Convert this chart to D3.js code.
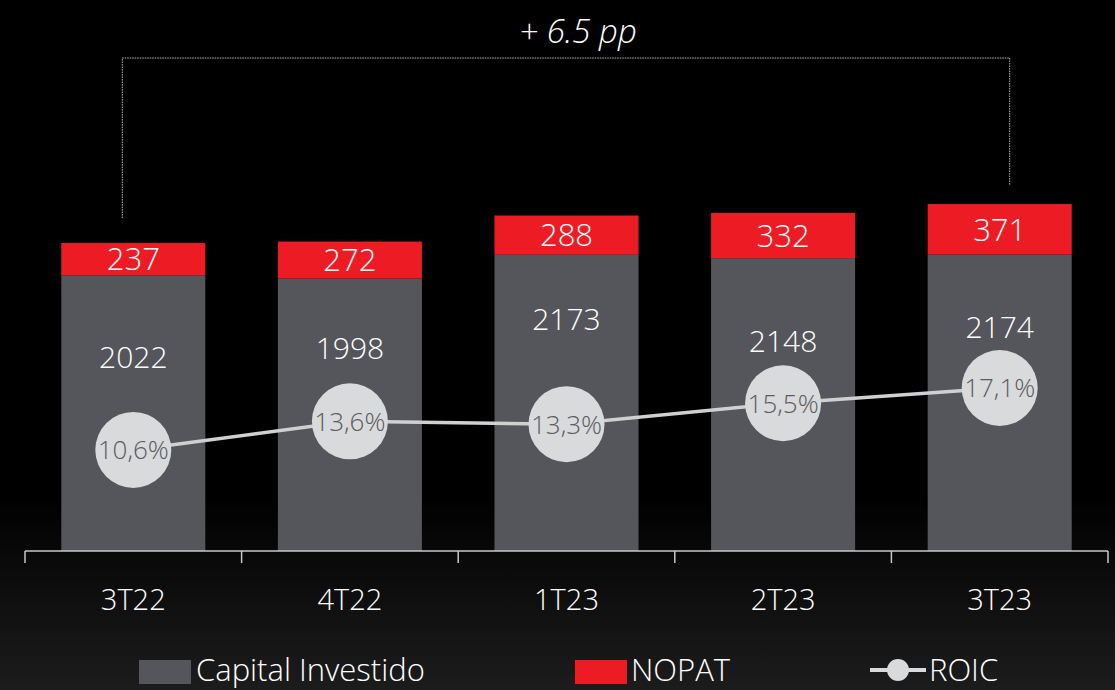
<!DOCTYPE html>
<html>
<head>
<meta charset="utf-8">
<script src="https://cdn.jsdelivr.net/npm/d3@7"></script>
<style>
  html, body { margin: 0; padding: 0; background: #000; }
  svg { display: block; font-family: "Open Sans", "Noto Sans", sans-serif; font-weight: 350; }
</style>
</head>
<body>
<div id="chart-area"></div>
<script>
// Data
const quarters = ["3T22", "4T22", "1T23", "2T23", "3T23"]
const capitalInvestido = [2022, 1998, 2173, 2148, 2174]
const nopat = [237, 272, 288, 332, 371]
const roic = [10.6, 13.6, 13.3, 15.5, 17.1]
const roicLabels = ["10,6%", "13,6%", "13,3%", "15,5%", "17,1%"]
const deltaLabel = "+ 6.5 pp"

// layout: distance of the capital label below the top of its grey segment
const capLabelGap = [82, 70, 64, 83, 73]

const W = 1115
const H = 690
const BASE = 551
const GREY = "#55565b"
const RED = "#ed1c24"
const LIGHT = "#d9dadb"

const svg = d3.select("#chart-area").append("svg")
    .attr("width", W)
    .attr("height", H)

// background with a faint dark texture near the bottom
const defs = svg.append("defs")
const grad = defs.append("linearGradient")
    .attr("id", "bg").attr("x1", 0).attr("y1", 0).attr("x2", 0).attr("y2", 1)
grad.append("stop").attr("offset", "0%").attr("stop-color", "#000")
grad.append("stop").attr("offset", "72%").attr("stop-color", "#000")
grad.append("stop").attr("offset", "100%").attr("stop-color", "#1c1c1c")
svg.append("rect").attr("width", W).attr("height", H).attr("fill", "url(#bg)")

// Scales
const x = d3.scaleBand()
    .domain(quarters)
    .range([25, 1108])
    .paddingInner(0.335)
    .paddingOuter(0.1675)

const y = d3.scaleLinear()
    .domain([0, 4042])
    .range([BASE, 0])

const y2 = d3.scaleLinear()
    .domain([0, 57.8])
    .range([BASE, 0])

const rows = quarters.map((q, i) => ({
    q, cap: capitalInvestido[i], nopat: nopat[i], roic: roic[i], label: roicLabels[i], gap: capLabelGap[i]
}))

// Bracket "+ 6.5 pp"
const first = rows[0], last = rows[rows.length - 1]
const bx1 = x(first.q) + x.bandwidth() / 2 - 11
const bx2 = x(last.q) + x.bandwidth() / 2 + 10
const topY = 58
svg.append("path")
    .attr("d", `M${bx1},${y(first.cap + first.nopat) - 25} V${topY} H${bx2} V${y(last.cap + last.nopat) - 19}`)
    .attr("fill", "none")
    .attr("stroke", "#bbbbbb")
    .attr("stroke-width", 1)
    .attr("stroke-dasharray", "1.5,1")
svg.append("text")
    .attr("x", (bx1 + bx2) / 2 + 12)
    .attr("y", 43)
    .attr("text-anchor", "middle")
    .attr("font-size", "33px")
    .attr("font-style", "italic")
    .attr("fill", "#fff")
    .text(deltaLabel)

// Bars
const bars = svg.append("g")
bars.selectAll(".cap").data(rows).enter().append("rect")
    .attr("x", d => x(d.q))
    .attr("width", x.bandwidth())
    .attr("y", d => y(d.cap))
    .attr("height", d => BASE - y(d.cap))
    .attr("fill", GREY)
bars.selectAll(".nop").data(rows).enter().append("rect")
    .attr("x", d => x(d.q))
    .attr("width", x.bandwidth())
    .attr("y", d => y(d.cap + d.nopat))
    .attr("height", d => y(d.cap) - y(d.cap + d.nopat))
    .attr("fill", RED)

// Bar labels
bars.selectAll(".nopLabel").data(rows).enter().append("text")
    .attr("x", d => x(d.q) + x.bandwidth() / 2)
    .attr("y", d => (y(d.cap) + y(d.cap + d.nopat)) / 2)
    .attr("dy", "0.36em")
    .attr("text-anchor", "middle")
    .attr("font-size", "31px")
    .attr("fill", "#fff")
    .text(d => d.nopat)
bars.selectAll(".capLabel").data(rows).enter().append("text")
    .attr("x", d => x(d.q) + x.bandwidth() / 2)
    .attr("y", d => y(d.cap) + d.gap)
    .attr("dy", "0.36em")
    .attr("text-anchor", "middle")
    .attr("font-size", "30px")
    .attr("fill", "#fff")
    .text(d => d.cap)

// ROIC line
const cx = d => x(d.q) + x.bandwidth() / 2
svg.append("path")
    .datum(rows)
    .attr("d", d3.line().x(cx).y(d => y2(d.roic)))
    .attr("fill", "none")
    .attr("stroke", "#d0d0d2")
    .attr("stroke-width", 3.5)
const dots = svg.append("g")
dots.selectAll("circle").data(rows).enter().append("circle")
    .attr("cx", cx)
    .attr("cy", d => y2(d.roic))
    .attr("r", 38)
    .attr("fill", LIGHT)
dots.selectAll("text").data(rows).enter().append("text")
    .attr("x", cx)
    .attr("y", d => y2(d.roic))
    .attr("dy", "0.36em")
    .attr("text-anchor", "middle")
    .attr("font-size", "26px")
    .attr("fill", "#5b5c61")
    .text(d => d.label)

// X axis (ticks on band boundaries)
const axis = svg.append("g").attr("stroke", "#c8c8c8").attr("stroke-width", 1.5)
const [r0, r1] = x.range()
axis.append("line").attr("x1", r0).attr("x2", r1).attr("y1", BASE).attr("y2", BASE)
const bounds = quarters.map(q => x(q) - x.step() * x.paddingInner() / 2).concat([r1])
bounds[0] = r0
axis.selectAll(".tick").data(bounds).enter().append("line")
    .attr("x1", d => d).attr("x2", d => d)
    .attr("y1", BASE).attr("y2", BASE + 12)
svg.append("g").selectAll("text").data(rows).enter().append("text")
    .attr("x", cx)
    .attr("y", 600)
    .attr("dy", "0.36em")
    .attr("text-anchor", "middle")
    .attr("font-size", "29px")
    .attr("fill", "#fff")
    .text(d => d.q)

// Legend
const legend = svg.append("g").attr("font-size", "31px").attr("fill", "#fff")
legend.append("rect").attr("x", 139).attr("y", 660).attr("width", 52).attr("height", 24).attr("fill", GREY)
legend.append("text").attr("x", 196).attr("y", 670).attr("dy", "0.36em").attr("fill", "#fff").text("Capital Investido")
legend.append("rect").attr("x", 575).attr("y", 660).attr("width", 52).attr("height", 24).attr("fill", RED)
legend.append("text").attr("x", 631).attr("y", 670).attr("dy", "0.36em").attr("fill", "#fff").text("NOPAT")
legend.append("line").attr("x1", 870).attr("x2", 926).attr("y1", 670).attr("y2", 670)
    .attr("stroke", LIGHT).attr("stroke-width", 4)
legend.append("circle").attr("cx", 898).attr("cy", 670).attr("r", 11).attr("fill", LIGHT)
legend.append("text").attr("x", 929).attr("y", 670).attr("dy", "0.36em").attr("fill", "#fff").text("ROIC")
</script>
</body>
</html>
